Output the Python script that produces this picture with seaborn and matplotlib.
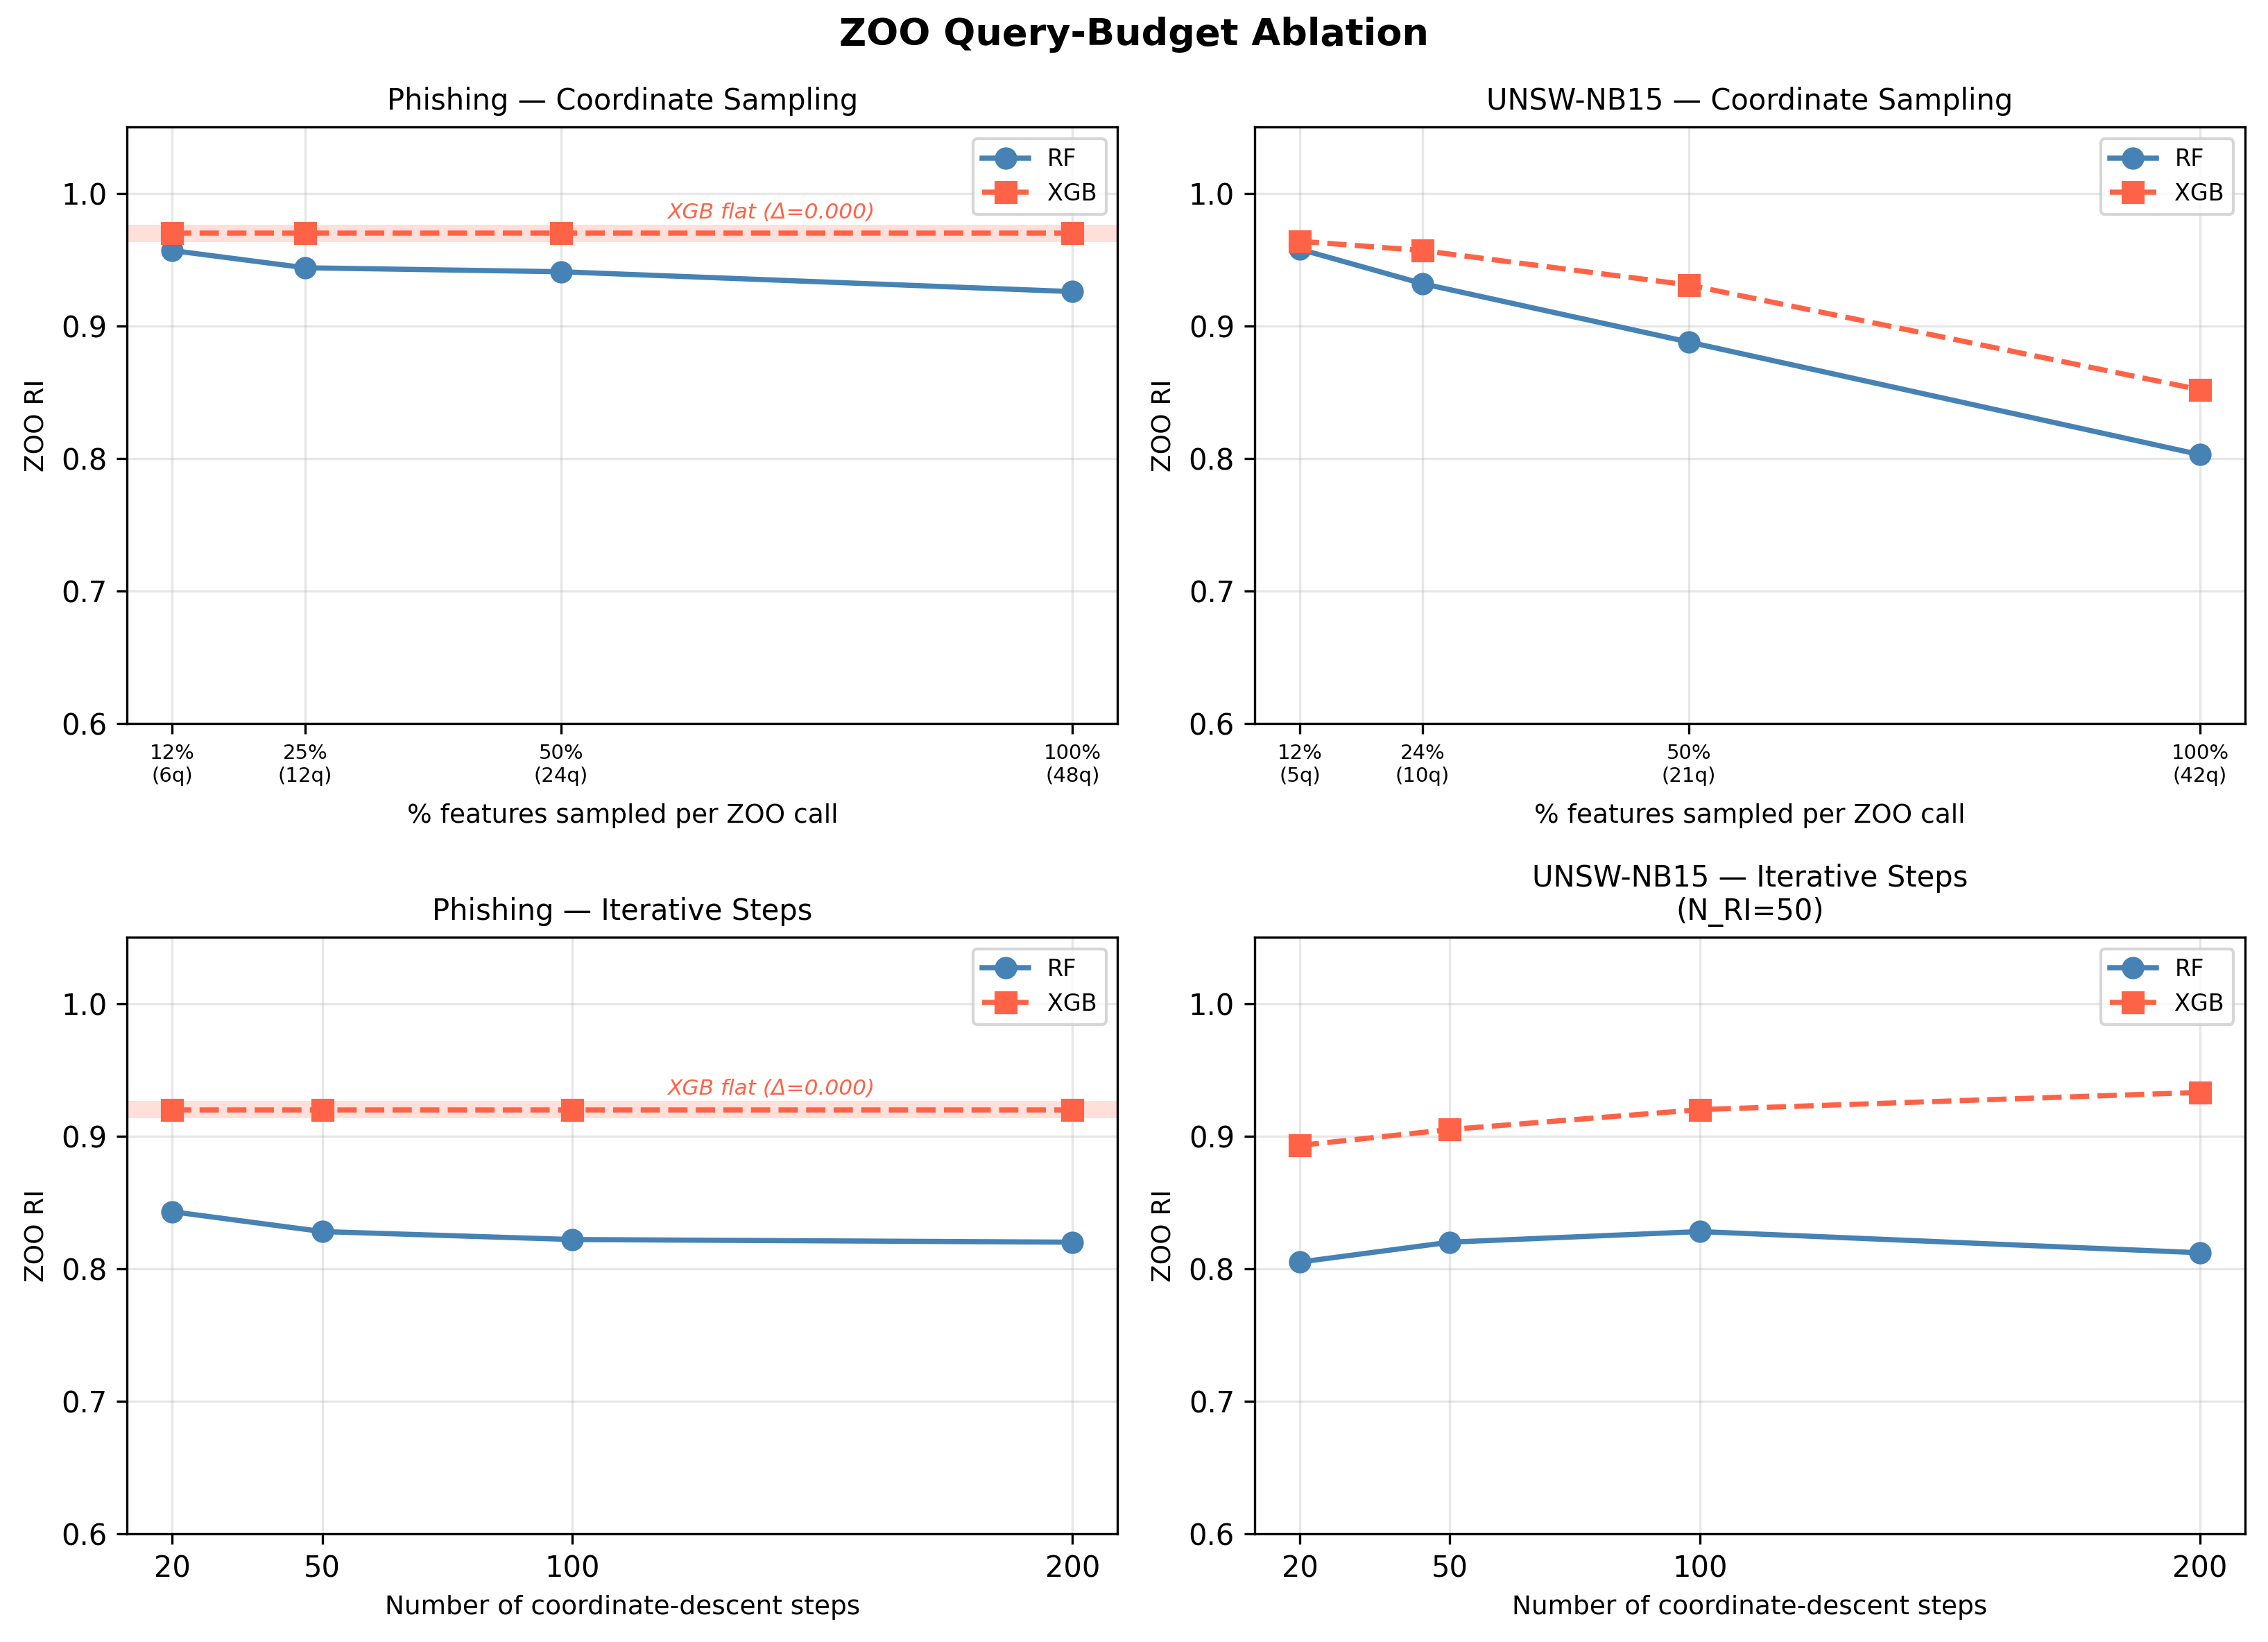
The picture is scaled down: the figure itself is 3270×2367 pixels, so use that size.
import matplotlib
matplotlib.use("Agg")
import matplotlib.pyplot as plt
import matplotlib.transforms as mtransforms
import seaborn as sns

# Coordinate-sampling ablation (percent of features sampled per ZOO call)
phish_pct = [12, 25, 50, 100]
phish_q = [6, 12, 24, 48]
phish_cs_rf = [0.957, 0.944, 0.941, 0.926]
phish_cs_xgb = [0.970, 0.970, 0.970, 0.970]

unsw_pct = [12, 24, 50, 100]
unsw_q = [5, 10, 21, 42]
unsw_cs_rf = [0.958, 0.932, 0.888, 0.803]
unsw_cs_xgb = [0.964, 0.957, 0.931, 0.852]

# Iterative-steps ablation
steps = [20, 50, 100, 200]
phish_it_rf = [0.843, 0.828, 0.822, 0.820]
phish_it_xgb = [0.920, 0.920, 0.920, 0.920]
unsw_it_rf = [0.805, 0.820, 0.828, 0.812]
unsw_it_xgb = [0.893, 0.905, 0.920, 0.933]

RF_C = "#4682B4"
XGB_C = "#FF6347"


def draw_panel(ax, x, rf, xgb, title, xlabel, ticklabels=None):
    sns.lineplot(x=x, y=rf, ax=ax, color=RF_C, marker="o", markersize=7,
                 markeredgecolor=RF_C, linewidth=1.8, label="RF")
    sns.lineplot(x=x, y=xgb, ax=ax, color=XGB_C, marker="s", markersize=7,
                 markeredgecolor=XGB_C, linewidth=1.8, linestyle="--", label="XGB")

    # flag a completely flat XGB curve
    if max(xgb) - min(xgb) < 1e-9:
        ax.axhspan(xgb[0] - 0.0065, xgb[0] + 0.0065, color=XGB_C, alpha=0.2, lw=0)
        trans = mtransforms.blended_transform_factory(ax.transAxes, ax.transData)
        ax.text(0.65, xgb[0] + 0.008, f"XGB flat (\u0394={max(xgb) - min(xgb):.3f})",
                transform=trans, ha="center", va="bottom", fontsize=7.5,
                style="italic", color=XGB_C)

    ax.set_ylim(0.6, 1.05)
    ax.set_yticks([0.6, 0.7, 0.8, 0.9, 1.0])
    ax.set_xticks(x)
    if ticklabels is not None:
        ax.set_xticklabels(ticklabels, fontsize=7)
        ax.set_xlabel(xlabel, fontsize=9, labelpad=6)
    else:
        ax.set_xticklabels([str(v) for v in x])
        ax.set_xlabel(xlabel, fontsize=9)
    ax.set_title(title, fontsize=10)
    ax.set_ylabel("ZOO RI", fontsize=9)
    ax.grid(True, alpha=0.3)
    ax.legend(loc="upper right", fontsize=8)


fig, axes = plt.subplots(2, 2, figsize=(10.9, 7.89))

draw_panel(axes[0, 0], phish_pct, phish_cs_rf, phish_cs_xgb,
           "Phishing \u2014 Coordinate Sampling", "% features sampled per ZOO call",
           [f"{p}%\n({q}q)" for p, q in zip(phish_pct, phish_q)])
draw_panel(axes[0, 1], unsw_pct, unsw_cs_rf, unsw_cs_xgb,
           "UNSW-NB15 \u2014 Coordinate Sampling", "% features sampled per ZOO call",
           [f"{p}%\n({q}q)" for p, q in zip(unsw_pct, unsw_q)])
draw_panel(axes[1, 0], steps, phish_it_rf, phish_it_xgb,
           "Phishing \u2014 Iterative Steps", "Number of coordinate-descent steps")
draw_panel(axes[1, 1], steps, unsw_it_rf, unsw_it_xgb,
           "UNSW-NB15 \u2014 Iterative Steps\n(N_RI=50)", "Number of coordinate-descent steps")

fig.suptitle("ZOO Query-Budget Ablation", fontsize=13, fontweight="bold",
             y=0.979, va="center")
fig.subplots_adjust(left=0.0561, right=0.9899, top=0.9225, bottom=0.0659,
                    wspace=0.1386, hspace=0.358)

fig.savefig("out.png", dpi=300)
